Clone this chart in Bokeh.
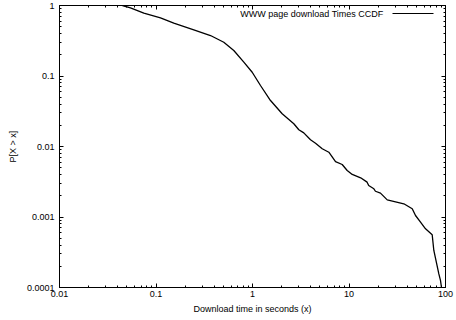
from bokeh.plotting import figure
from bokeh.models import LogAxis, FixedTicker, CustomJSTickFormatter, Label, Arrow
from bokeh.embed import file_html
from bokeh.resources import INLINE

# Data (CCDF of WWW page download times)
download_time = [0.0449, 0.0544, 0.0748, 0.1113, 0.1529, 0.2464, 0.367, 0.504, 0.640, 0.813,
                 0.993, 1.21, 1.537, 2.03, 2.68, 3.02, 3.40, 3.99, 4.50, 5.28,
                 6.18, 7.25, 8.50, 9.58, 10.8, 13.2, 15.4, 16.0, 18.1, 18.8,
                 21.2, 24.9, 37.0, 45.2, 48.9, 55.1, 62.1, 72.8, 75.7, 85.3,
                 88.7, 90.9]
ccdf = [1.0, 0.928, 0.778, 0.669, 0.561, 0.452, 0.375, 0.3015, 0.230, 0.157,
        0.113, 0.0733, 0.0449, 0.0291, 0.0210, 0.0173, 0.0156, 0.01245, 0.01114, 0.00928,
        0.0083, 0.00612, 0.00556, 0.00457, 0.00401, 0.0036, 0.00312, 0.0028, 0.00251, 0.00232,
        0.00218, 0.00175, 0.00154, 0.00131, 0.00105, 0.000844, 0.00068, 0.00056, 0.000335, 0.000156,
        0.000126, 0.0001]

x_ticks = [0.01, 0.1, 1, 10, 100]
x_tick_labels = ["0.01", "0.1", "1", "10", "100"]
y_ticks = [0.0001, 0.001, 0.01, 0.1, 1]
y_tick_labels = ["0.0001", "0.001", "0.01", "0.1", "1"]
series_label = "WWW page download Times CCDF"
x_title = "Download time in seconds (x)"
y_title = "P[X > x]"

FONT = "Liberation Sans"
FS = "9px"

p = figure(width=456, height=320, x_axis_type="log", y_axis_type="log",
           x_range=(0.01, 100), y_range=(0.0001, 1),
           output_backend="svg", toolbar_location=None,
           min_border_left=59, min_border_right=11, min_border_top=5, min_border_bottom=33)
p.background_fill_color = "white"
p.border_fill_color = "white"
p.outline_line_color = "black"
p.outline_line_width = 1
p.xgrid.visible = False
p.ygrid.visible = False

JS = """
for (let i = 0; i < tv.length; i++) {
  if (Math.abs(Math.log10(tv[i]) - Math.log10(tick)) < 1e-6) return tl[i];
}
return "";
"""

def minors(ticks):
    return [m * t for t in ticks[:-1] for m in range(2, 10)]

def style(ax, ticks, labels, show):
    ax.ticker = FixedTicker(ticks=ticks, minor_ticks=minors(ticks))
    ax.axis_line_color = "black"
    ax.axis_line_width = 1
    ax.major_tick_in = 4
    ax.major_tick_out = 0
    ax.minor_tick_in = 2
    ax.minor_tick_out = 0
    ax.major_tick_line_color = "black"
    ax.minor_tick_line_color = "black"
    if show:
        ax.formatter = CustomJSTickFormatter(args=dict(tv=ticks, tl=labels), code=JS)
        ax.major_label_text_font = FONT
        ax.major_label_text_font_size = FS
        ax.major_label_text_color = "black"
        ax.axis_label_text_font = FONT
        ax.axis_label_text_font_size = FS
        ax.axis_label_text_font_style = "normal"
        ax.axis_label_text_color = "black"
    else:
        ax.formatter = CustomJSTickFormatter(code='return ""')
        ax.major_label_text_font_size = "0px"
        ax.major_label_standoff = 0

xa = p.xaxis[0]
ya = p.yaxis[0]
style(xa, x_ticks, x_tick_labels, True)
style(ya, y_ticks, y_tick_labels, True)
xa.axis_label = x_title
ya.axis_label = y_title
xa.major_label_standoff = 3
xa.axis_label_standoff = 4
ya.major_label_standoff = 5
ya.axis_label_standoff = 6

top = LogAxis()
style(top, x_ticks, x_tick_labels, False)
p.add_layout(top, "above")
right = LogAxis()
style(right, y_ticks, y_tick_labels, False)
p.add_layout(right, "right")

p.line(download_time, ccdf, line_color="black", line_width=1.3)

# gnuplot-style key: text right-aligned, sample line to its right
p.add_layout(Label(x=324, y=274, x_units="screen", y_units="screen", text=series_label,
                   text_font=FONT, text_font_size=FS, text_color="black",
                   text_align="right", text_baseline="middle"))
p.add_layout(Arrow(x_start=333, y_start=274, x_end=374, y_end=274,
                   start_units="screen", end_units="screen", start=None, end=None,
                   line_color="black", line_width=1))

open("out.html", "w").write(file_html(p, INLINE))
